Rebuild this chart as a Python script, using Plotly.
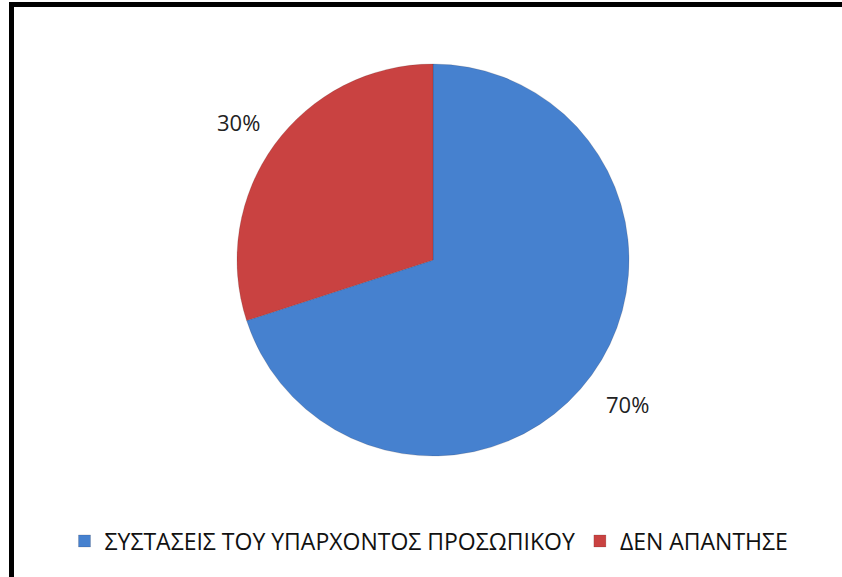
import math
import plotly.graph_objects as go

# Survey answers and their shares (%)
categories = ["ΣΥΣΤΑΣΕΙΣ ΤΟΥ ΥΠΑΡΧΟΝΤΟΣ ΠΡΟΣΩΠΙΚΟΥ", "ΔΕΝ ΑΠΑΝΤΗΣΕ"]
shares = [70, 30]
colors = ["#4681cf", "#c94241"]

W, H = 842, 577
# pie placement in pixels (centre and radius)
cx, cy, r = 433, 260, 196

fig = go.Figure(
    go.Pie(
        labels=categories,
        values=shares,
        sort=False,
        direction="clockwise",
        rotation=0,
        textinfo="none",
        hoverinfo="label+percent",
        marker=dict(colors=colors, line=dict(color="rgba(40,20,20,0.25)", width=0.6)),
        domain=dict(
            x=[(cx - r) / W, (cx + r) / W],
            y=[(H - cy - r) / H, (H - cy + r) / H],
        ),
    )
)

# percentage labels placed outside each slice, along its mid-angle
total = sum(shares)
start = 0.0
annotations = []
for v in shares:
    mid = start + v / total * 360 / 2
    start += v / total * 360
    ang = math.radians(mid)
    d = r * 1.225
    px = cx + d * math.sin(ang)
    py = cy - d * math.cos(ang) + 3
    annotations.append(
        dict(
            x=px / W,
            y=1 - py / H,
            xref="paper",
            yref="paper",
            xanchor="center",
            yanchor="middle",
            text=f"{round(v / total * 100)}%",
            showarrow=False,
            font=dict(family="Open Sans", size=22, color="#222222"),
        )
    )

fig.update_layout(
    width=W,
    height=H,
    margin=dict(l=0, r=0, t=0, b=0),
    paper_bgcolor="white",
    plot_bgcolor="white",
    annotations=annotations,
    showlegend=True,
    legend=dict(
        orientation="h",
        x=429 / W,
        xanchor="center",
        y=1 - 541 / H,
        yanchor="middle",
        font=dict(family="Open Sans", size=23, color="#111111"),
        itemwidth=30,
        tracegroupgap=0,
    ),
    shapes=[
        dict(
            type="rect",
            xref="paper",
            yref="paper",
            x0=11.5 / W,
            x1=1.05,
            y0=-0.05,
            y1=1 - 4.5 / H,
            line=dict(color="black", width=5),
            fillcolor="rgba(0,0,0,0)",
        )
    ],
)

fig.write_html("out.html")
